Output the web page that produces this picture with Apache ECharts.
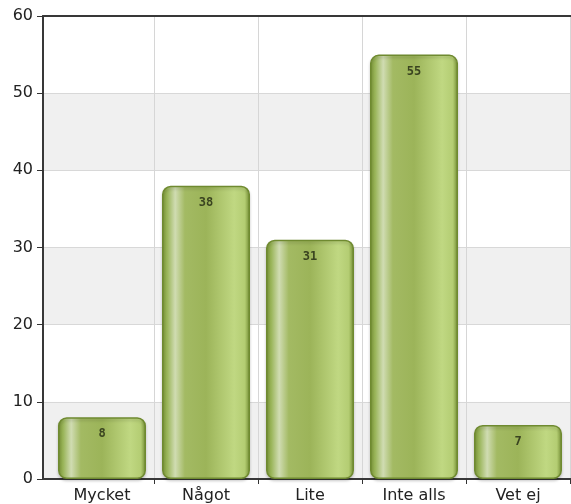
<!DOCTYPE html>
<html>
<head>
<meta charset="utf-8">
<script src="https://cdn.jsdelivr.net/npm/echarts@6/dist/echarts.min.js"></script>
<style>
  html, body { margin: 0; padding: 0; background: #fff; }
  #chart { width: 571px; height: 504px; }
</style>
</head>
<body>
<div id="chart"></div>
<script>
// data
var categories = ['Mycket', 'Något', 'Lite', 'Inte alls', 'Vet ej']
var answers = [8, 38, 31, 55, 7]
var yTicks = { min: 0, max: 60, interval: 10 }

var barFill = new echarts.graphic.LinearGradient(0, 0, 1, 0, [
  { offset: 0, color: '#7a9536' },
  { offset: 0.06, color: '#9ab55a' },
  { offset: 0.15, color: '#d0dcb2' },
  { offset: 0.26, color: '#a3ba63' },
  { offset: 0.5, color: '#9cb459' },
  { offset: 0.82, color: '#c0d882' },
  { offset: 0.94, color: '#b4cd73' },
  { offset: 1, color: '#7a9536' }
])

var frameLine = { show: true, lineStyle: { color: '#383838', width: 2 } }
var skipFirst = function (index) { return index > 0 }

var myChart = echarts.init(document.getElementById('chart'))
myChart.setOption({
  animation: false,
  grid: [
    { left: 43, right: 0, top: 16, bottom: 25 },
    { left: 50, right: 1, top: 16, bottom: 25 }
  ],
  xAxis: [
    {
      gridIndex: 0, type: 'value', min: 0, max: 1, position: 'bottom',
      axisLine: frameLine, axisTick: { show: false }, axisLabel: { show: false }, splitLine: { show: false }
    },
    {
      gridIndex: 0, type: 'value', min: 0, max: 1, position: 'top',
      axisLine: frameLine, axisTick: { show: false }, axisLabel: { show: false }, splitLine: { show: false }
    },
    {
      gridIndex: 1, type: 'category', data: categories,
      axisLine: { show: false },
      axisTick: { show: true, length: 5, interval: skipFirst, lineStyle: { color: '#333', width: 1 } },
      axisLabel: { color: '#222', fontSize: 16, fontFamily: 'DejaVu Sans', margin: 9 },
      splitLine: { show: true, interval: skipFirst, lineStyle: { color: '#d6d6d6', width: 1 } }
    }
  ],
  yAxis: [
    {
      gridIndex: 0, type: 'value', min: yTicks.min, max: yTicks.max, interval: yTicks.interval,
      axisLine: frameLine,
      axisTick: { show: true, length: 6, lineStyle: { color: '#333' } },
      axisLabel: { color: '#222', fontSize: 16, fontFamily: 'DejaVu Sans', margin: 10 },
      splitLine: { show: true, lineStyle: { color: '#d8d8d8' } },
      splitArea: { show: true, areaStyle: { color: ['#f0f0f0', '#ffffff'] } }
    },
    {
      gridIndex: 1, type: 'value', min: yTicks.min, max: yTicks.max, interval: yTicks.interval,
      axisLine: { show: false }, axisTick: { show: false }, axisLabel: { show: false }, splitLine: { show: false }
    }
  ],
  series: [
    {
      type: 'bar',
      xAxisIndex: 2,
      yAxisIndex: 1,
      data: answers,
      barWidth: 88,
      itemStyle: {
        color: barFill,
        borderColor: '#6f8a30',
        borderWidth: 1.5,
        borderRadius: 8,
        shadowColor: 'rgba(0,0,0,0.18)',
        shadowBlur: 3,
        shadowOffsetY: 2
      },
      label: {
        show: true,
        position: 'insideTop',
        distance: 11,
        color: '#3a4420',
        fontSize: 12,
        fontWeight: 'bold',
        fontFamily: 'DejaVu Sans Mono'
      }
    }
  ]
})
</script>
</body>
</html>
